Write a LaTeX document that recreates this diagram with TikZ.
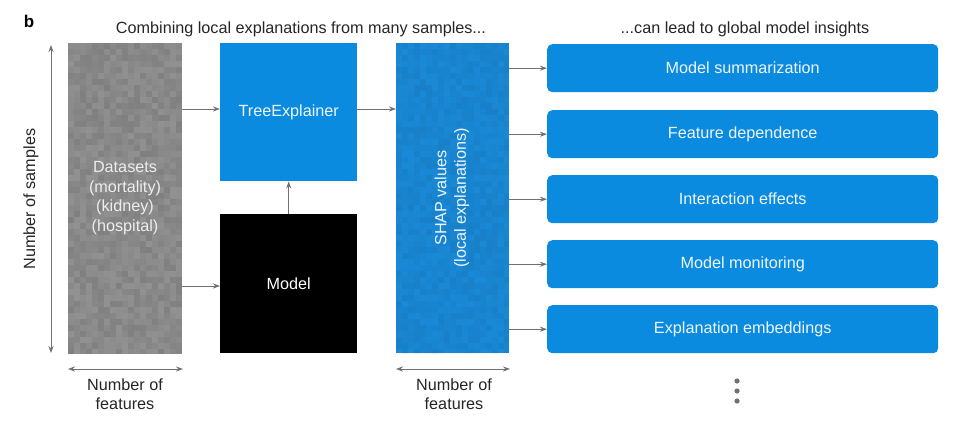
\documentclass[tikz,border=0pt]{standalone}
\usepackage{fontspec}
\setmainfont{Liberation Sans}
\usetikzlibrary{arrows.meta}
\definecolor{boxblue}{HTML}{0B8BE0}
\definecolor{shapblue}{HTML}{1A8BDA}
\definecolor{dsgray}{HTML}{8A8A8A}
\definecolor{arrgray}{HTML}{707070}
\definecolor{lighttxt}{HTML}{EEF6FD}
\definecolor{dstxt}{HTML}{EDEDED}
\tikzset{
  conn/.style={draw=arrgray, line width=1pt, -{Stealth[length=7pt,width=5pt]}},
  dim/.style={draw=arrgray, line width=1pt, {Stealth[length=7pt,width=5pt]}-{Stealth[length=7pt,width=5pt]}},
  insight/.style={rectangle, rounded corners=5pt, fill=boxblue, minimum width=391pt, minimum height=48pt, text=lighttxt, font=\fontsize{16.2}{19}\selectfont, inner sep=0pt},
  bigbox/.style={rectangle, minimum width=137pt, minimum height=138pt, inner sep=0pt},
  matrixbox/.style={rectangle, minimum width=114pt, minimum height=310pt, inner sep=0pt},
  lbl/.style={font=\fontsize{16.2}{19.5}\selectfont, align=center, text=black!85},
}
\begin{document}
\begin{tikzpicture}[x=1pt,y=-1pt]
\useasboundingbox[fill=white] (0,0) rectangle (963,436);
\pgfmathsetseed{4242}
% dataset matrix
\node[matrixbox, fill=dsgray, anchor=north west] (data) at (68,43) {};
\begin{scope}
\clip (data.north west) rectangle (data.south east);
\foreach \i in {0,...,18}{
  \foreach \j in {0,...,51}{
    \pgfmathsetmacro\g{43+7*rnd}
    \fill[black!\g] (68+6*\i,43+6*\j) rectangle ++(6,6);
  }
}
\end{scope}
\node[lbl, text=dstxt] (datatxt) at (125,198) {Datasets\\(mortality)\\(kidney)\\(hospital)};
% SHAP matrix
\node[matrixbox, fill=shapblue, minimum width=113pt, anchor=north west] (shap) at (396,43) {};
\begin{scope}
\clip (shap.north west) rectangle (shap.south east);
\foreach \i in {0,...,18}{
  \foreach \j in {0,...,51}{
    \pgfmathsetmacro\g{rnd}
    \fill[black, opacity=0.01+0.07*\g] (396+6*\i,43+6*\j) rectangle ++(6,6);
  }
}
\end{scope}
\node[lbl, text=lighttxt, rotate=90] (shaptxt) at (452,198) {SHAP values\\(local explanations)};
% TreeExplainer and Model
\node[bigbox, fill=boxblue, anchor=north west] (tree) at (220,43) {};
\node[text=lighttxt, font=\fontsize{16.2}{19}\selectfont] at (tree.center) {TreeExplainer};
\node[bigbox, fill=black, anchor=north west, minimum height=139pt] (model) at (220,214) {};
\node[text=white, font=\fontsize{16.2}{19}\selectfont] at (model.center) {Model};
% titles
\node[font=\bfseries\fontsize{17}{19}\selectfont] (blabel) at (29,21) {b};
\node[lbl] (title1) at (301,29) {Combining local explanations from many samples...};
\node[lbl] (title2) at (745,29) {...can lead to global model insights};
% insight boxes
\node[insight, anchor=north west] (i1) at (547,44) {Model summarization};
\node[insight, anchor=north west] (i2) at (547,110) {Feature dependence};
\node[insight, anchor=north west] (i3) at (547,175) {Interaction effects};
\node[insight, anchor=north west] (i4) at (547,240) {Model monitoring};
\node[insight, anchor=north west] (i5) at (547,305) {Explanation embeddings};
% dots
\foreach \yy in {381,391,401}{\fill[arrgray] (737,\yy) circle (2.6pt);}
% connectors
\coordinate (d1) at (182,109);
\coordinate (d2) at (182,286);
\draw[conn] (d1) -- (tree.west |- d1);
\draw[conn] (d2) -- (model.west |- d2);
\draw[conn] (model.north) -- (tree.south);
\draw[conn] (tree.east |- d1) -- (shap.west |- d1);
\foreach \k in {1,...,5}{
  \draw[conn] (shap.east |- i\k.west) -- (i\k.west);
}
% dimension arrows
\coordinate (vt) at (51,45);
\coordinate (vb) at (51,353);
\draw[dim] (vt) -- (vb);
\node[lbl, rotate=90] (samples) at (31,199) {Number of samples};
\coordinate (h1a) at (68,369);
\coordinate (h1b) at (183,369);
\draw[dim] (h1a) -- (h1b);
\node[lbl] (feat1) at (125,394) {Number of\\features};
\coordinate (h2a) at (396,369);
\coordinate (h2b) at (510,369);
\draw[dim] (h2a) -- (h2b);
\node[lbl] (feat2) at (454,394) {Number of\\features};
\end{tikzpicture}
\end{document}
